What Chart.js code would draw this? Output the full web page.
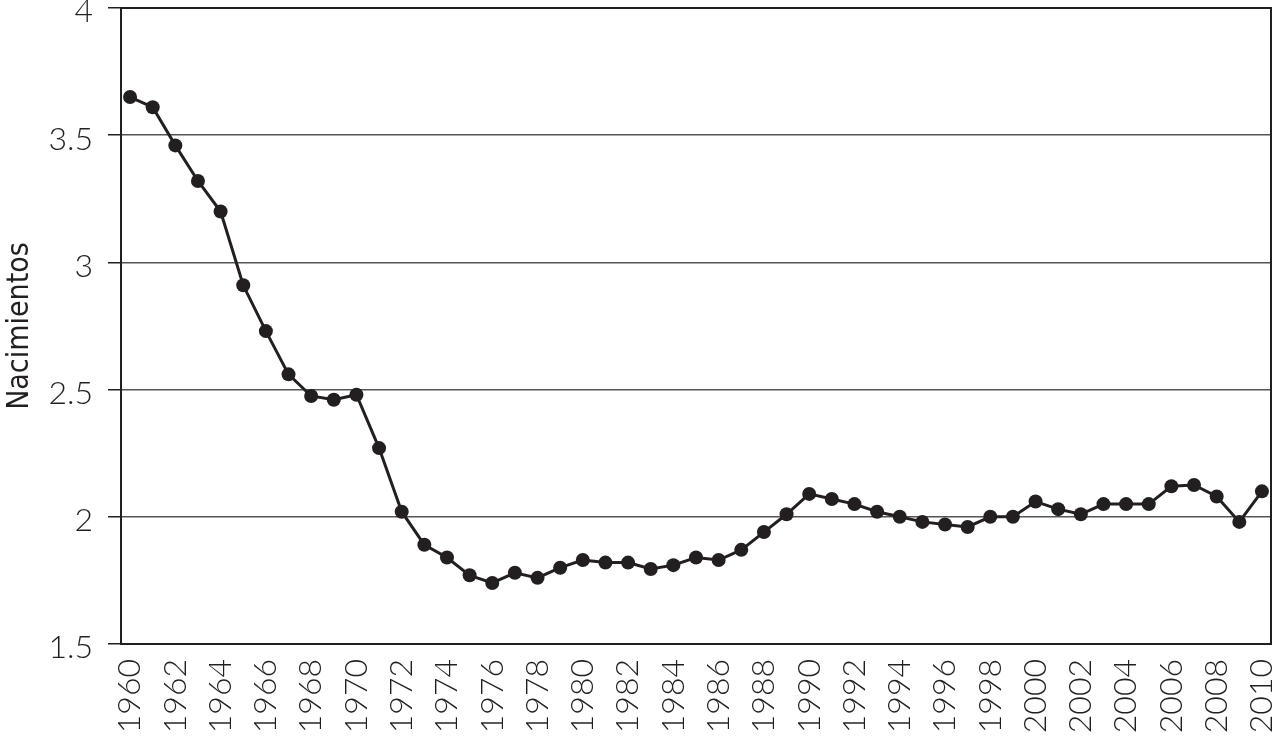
<!DOCTYPE html>
<html>
<head>
<meta charset="utf-8">
<script src="https://cdn.jsdelivr.net/npm/chart.js@4.4.1/dist/chart.umd.min.js"></script>
<style>
  html, body { margin: 0; padding: 0; background: #ffffff; }
  #wrap { width: 1278px; height: 740px; position: relative; }
</style>
</head>
<body>
<div id="wrap"><canvas id="c" width="1278" height="740"></canvas></div>
<script>
const years = [1960,1961,1962,1963,1964,1965,1966,1967,1968,1969,
  1970,1971,1972,1973,1974,1975,1976,1977,1978,1979,
  1980,1981,1982,1983,1984,1985,1986,1987,1988,1989,
  1990,1991,1992,1993,1994,1995,1996,1997,1998,1999,
  2000,2001,2002,2003,2004,2005,2006,2007,2008,2009,2010];
const births = [3.65,3.61,3.46,3.32,3.20,2.91,2.73,2.56,2.475,2.46,
  2.48,2.27,2.02,1.89,1.84,1.77,1.74,1.78,1.76,1.80,
  1.83,1.82,1.82,1.795,1.81,1.84,1.83,1.87,1.94,2.01,
  2.09,2.07,2.05,2.02,2.00,1.98,1.97,1.96,2.00,2.00,
  2.06,2.03,2.01,2.05,2.05,2.05,2.12,2.125,2.08,1.98,2.10];
const yTicks = [1.5,2,2.5,3,3.5,4];
const xTickYears = years.filter(y => y % 2 === 0);
const yTitle = 'Nacimientos';

const frame = {
  id: 'frame',
  beforeDatasetsDraw(chart) {
    const a = chart.chartArea, ctx = chart.ctx;
    ctx.save();
    ctx.strokeStyle = '#231f20';
    ctx.lineWidth = 2;
    ctx.strokeRect(a.left, a.top, a.right - a.left, a.bottom - a.top);
    ctx.restore();
  }
};

new Chart(document.getElementById('c'), {
  type: 'line',
  data: {
    datasets: [{
      data: years.map((y, i) => ({ x: y, y: births[i] })),
      borderColor: '#231f20',
      backgroundColor: '#231f20',
      borderWidth: 3,
      pointRadius: 7,
      pointHoverRadius: 7,
      pointBorderWidth: 0,
      tension: 0,
      fill: false
    }]
  },
  options: {
    responsive: false,
    animation: false,
    events: [],
    layout: { padding: { top: 8, right: 6, left: 0, bottom: 0 } },
    plugins: { legend: { display: false }, tooltip: { enabled: false } },
    scales: {
      x: {
        type: 'linear',
        min: 1959.6,
        max: 2010.4,
        afterBuildTicks(scale) { scale.ticks = xTickYears.map(v => ({ value: v })); },
        afterFit(scale) { scale.height = 96; scale.paddingLeft = 0; scale.paddingRight = 0; },
        grid: { display: false, drawTicks: false },
        border: { display: true, color: '#231f20', width: 2 },
        ticks: {
          autoSkip: false,
          maxRotation: 90,
          minRotation: 90,
          padding: 15,
          color: '#231f20',
          font: { family: 'Lato', size: 32, weight: '300' },
          callback: v => String(v)
        }
      },
      y: {
        min: 1.5,
        max: 4,
        afterBuildTicks(scale) { scale.ticks = yTicks.map(v => ({ value: v })); },
        afterFit(scale) { scale.width = 121; scale.paddingTop = 0; scale.paddingBottom = 0; },
        grid: { color: '#555555', lineWidth: 1.5, tickLength: 13, drawTicks: true, tickColor: '#231f20' },
        border: { display: true, color: '#231f20', width: 2 },
        ticks: {
          padding: 15,
          labelOffset: 4,
          color: '#231f20',
          font: { family: 'Lato', size: 32, weight: '300' },
          callback: v => String(v)
        },
        title: {
          display: true,
          text: yTitle,
          color: '#231f20',
          padding: { top: 2, bottom: 0 },
          font: { family: "'Liberation Sans Narrow', 'DejaVu Sans Condensed', sans-serif", size: 30, weight: '300' }
        }
      }
    }
  },
  plugins: [frame]
});
</script>
</body>
</html>
